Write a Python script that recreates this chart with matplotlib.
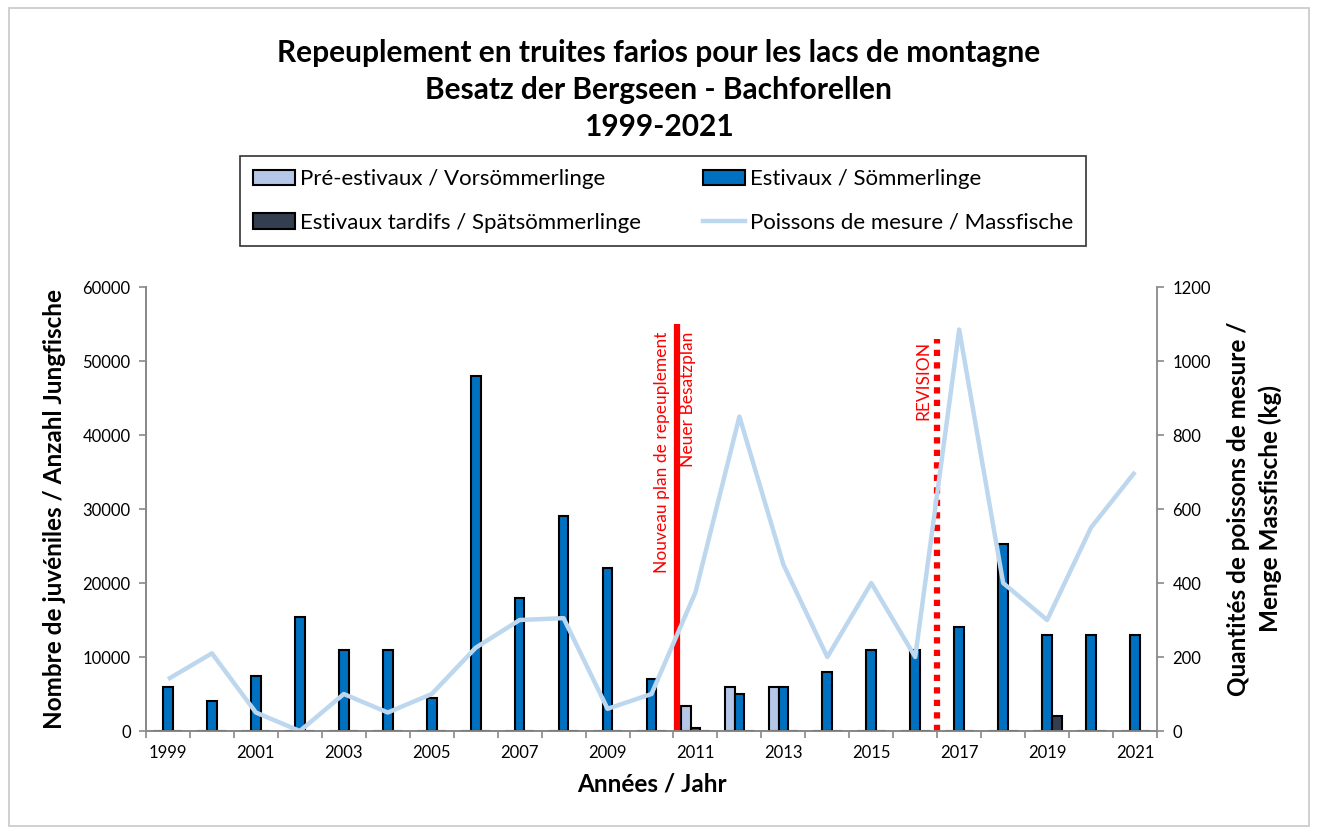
import matplotlib
matplotlib.use("Agg")
import matplotlib.pyplot as plt
from matplotlib.patches import Rectangle, Patch
from matplotlib.lines import Line2D
import numpy as np

plt.rcParams['font.family'] = ['Lato', 'DejaVu Sans']

# data
years = list(range(1999, 2022))
pre_estivaux = [0, 0, 0, 0, 0, 0, 0, 0, 0, 0, 0, 0, 3400, 6000, 6000, 0, 0, 0, 0, 0, 0, 0, 0]
estivaux = [6000, 4000, 7400, 15400, 11000, 11000, 4500, 48000, 18000, 29000, 22000, 7000,
            400, 5000, 6000, 8000, 11000, 11000, 14000, 25300, 13000, 13000, 13000]
tardifs = [0, 0, 0, 0, 0, 0, 0, 0, 0, 0, 0, 0, 0, 0, 0, 0, 0, 0, 0, 0, 2000, 0, 0]
massfische = [140, 210, 50, 0, 100, 50, 100, 225, 300, 305, 60, 100,
              375, 850, 450, 200, 400, 200, 1085, 400, 300, 550, 700]

c_pre = '#B4C7E7'
c_est = '#0070C0'
c_tard = '#333F50'
c_line = '#BDD7EE'
grey = '#898989'

fig = plt.figure(figsize=(13.17, 8.34), dpi=100)
ax = fig.add_axes([146 / 1317, 103 / 834, 1011 / 1317, 444 / 834])
ax2 = ax.twinx()

x = np.arange(len(years))
w = 0.22
ax.bar(x - w, pre_estivaux, w, color=c_pre, edgecolor='black', linewidth=1.5, zorder=3)
ax.bar(x, estivaux, w, color=c_est, edgecolor='black', linewidth=1.5, zorder=3)
ax.bar(x + w, tardifs, w, color=c_tard, edgecolor='black', linewidth=1.5, zorder=3)

ax2.plot(x, massfische, color=c_line, linewidth=3.2, solid_capstyle='butt', zorder=2)

# vertical markers
ax.vlines(11.57, 0, 55000, color='#FF0000', linewidth=4.5, zorder=5)
ax.vlines(17.5, 0, 53000, color='#FF0000', linewidth=4.5, linestyles=(0, (1, 1)), zorder=5)
ax.text(11.25, 54000, 'Nouveau plan de repeuplement', rotation=90, color='#FF0000',
        ha='center', va='top', fontsize=12.5, zorder=6)
ax.text(11.82, 54000, 'Neuer Besatzplan', rotation=90, color='#FF0000',
        ha='center', va='top', fontsize=12.5, zorder=6)
ax.text(17.18, 52700, 'REVISION', rotation=90, color='#FF0000',
        ha='center', va='top', fontsize=12.5, zorder=6)

ax.set_xlim(-0.5, len(years) - 0.5)
ax.set_ylim(0, 60000)
ax2.set_ylim(0, 1200)
ax.set_yticks(range(0, 60001, 10000))
ax2.set_yticks(range(0, 1201, 200))

ax.set_xticks(np.arange(-0.5, len(years), 1))
ax.set_xticklabels([])
ax.set_xticks(x[::2], minor=True)
ax.set_xticklabels([str(y) for y in years[::2]], minor=True)
ax.tick_params(axis='x', which='major', length=5, color=grey, width=1.2)
ax.tick_params(axis='x', which='minor', length=0, pad=10, labelsize=12)
ax.tick_params(axis='y', length=5, color=grey, width=1.2, labelsize=12, pad=6)
ax2.tick_params(axis='y', length=5, color=grey, width=1.2, labelsize=12, pad=6)

for a in (ax, ax2):
    a.spines['top'].set_visible(False)
    for s in ('left', 'right', 'bottom'):
        a.spines[s].set_color(grey)
        a.spines[s].set_linewidth(1.3)
ax.spines['right'].set_visible(False)

ax.set_xlabel('Années / Jahr', fontsize=17.5, fontweight='bold', labelpad=8)
ax.set_ylabel('Nombre de juvéniles / Anzahl Jungfische', fontsize=17.5, fontweight='bold', labelpad=12)
ax2.set_ylabel('Quantités de poissons de mesure /\nMenge Massfische (kg)', fontsize=17.5,
               fontweight='bold', labelpad=12, linespacing=1.4)

fig.text(0.5, 1 - 90 / 834, 'Repeuplement en truites farios pour les lacs de montagne\n'
         'Besatz der Bergseen - Bachforellen\n1999-2021', ha='center', va='center',
         fontsize=21.5, fontweight='bold', linespacing=1.38)

handles = [
    Patch(facecolor=c_pre, edgecolor='black', linewidth=1.5),
    Patch(facecolor=c_tard, edgecolor='black', linewidth=1.5),
    Patch(facecolor=c_est, edgecolor='black', linewidth=1.5),
    Line2D([], [], color=c_line, linewidth=3.2),
]
labels = ['Pré-estivaux / Vorsömmerlinge', 'Estivaux tardifs / Spätsömmerlinge',
          'Estivaux / Sömmerlinge', 'Poissons de mesure / Massfische']
leg = fig.legend(handles, labels, ncol=2, loc='center',
                 bbox_to_anchor=((236 + 1090) / 2 / 1317, 1 - 201 / 834),
                 fontsize=16, frameon=True, fancybox=False, edgecolor='black',
                 handlelength=1.9, handleheight=0.7, handletextpad=0.2,
                 columnspacing=2.8, labelspacing=1.05, borderpad=0.6)
leg.get_frame().set_linewidth(1.2)

fig.patches.append(Rectangle((9 / 1317, 8 / 834), 1300 / 1317, 818 / 834, transform=fig.transFigure,
                             fill=False, edgecolor='#C8C8C8', linewidth=1.2))

fig.savefig('out.png', dpi=100)
